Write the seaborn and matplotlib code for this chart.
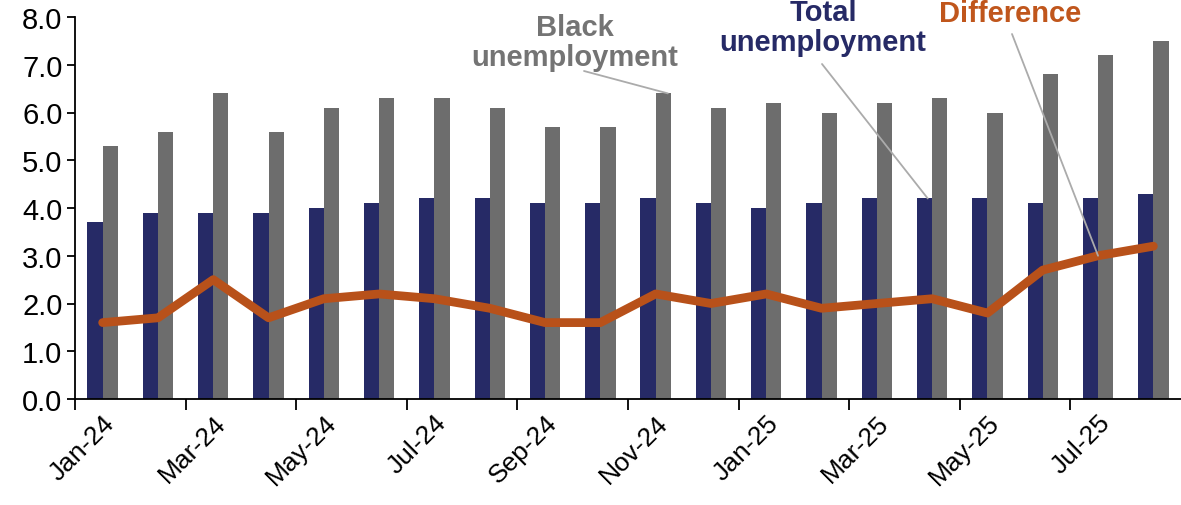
import numpy as np
import pandas as pd
import matplotlib
matplotlib.use("Agg")
import matplotlib.pyplot as plt
import seaborn as sns

months = ["Jan-24", "Feb-24", "Mar-24", "Apr-24", "May-24", "Jun-24", "Jul-24", "Aug-24",
          "Sep-24", "Oct-24", "Nov-24", "Dec-24", "Jan-25", "Feb-25", "Mar-25", "Apr-25",
          "May-25", "Jun-25", "Jul-25", "Aug-25"]
total_unemp = [3.7, 3.9, 3.9, 3.9, 4.0, 4.1, 4.2, 4.2, 4.1, 4.1,
               4.2, 4.1, 4.0, 4.1, 4.2, 4.2, 4.2, 4.1, 4.2, 4.3]
black_unemp = [5.3, 5.6, 6.4, 5.6, 6.1, 6.3, 6.3, 6.1, 5.7, 5.7,
               6.4, 6.1, 6.2, 6.0, 6.2, 6.3, 6.0, 6.8, 7.2, 7.5]
difference = [1.6, 1.7, 2.5, 1.7, 2.1, 2.2, 2.1, 1.9, 1.6, 1.6,
              2.2, 2.0, 2.2, 1.9, 2.0, 2.1, 1.8, 2.7, 3.0, 3.2]
yticks = [0, 1, 2, 3, 4, 5, 6, 7, 8]

NAVY = "#262A66"
GRAY = "#6D6D6D"
ORANGE = "#B8511A"

sns.set_theme(style="ticks")
plt.rcParams["font.family"] = ["Liberation Sans", "DejaVu Sans"]
plt.rcParams["text.color"] = "black"
plt.rcParams["xtick.color"] = "black"
plt.rcParams["ytick.color"] = "black"

df = pd.DataFrame({
    "month": months * 2,
    "value": total_unemp + black_unemp,
    "series": ["Total"] * len(months) + ["Black"] * len(months),
})

fig = plt.figure(figsize=(11.81, 5.06), dpi=100)
ax = fig.add_axes([75 / 1181, 106 / 506, 1 - 75 / 1181, (400 - 18) / 506])

sns.barplot(data=df, x="month", y="value", hue="series", order=months,
            hue_order=["Total", "Black"], palette=[NAVY, GRAY], saturation=1,
            width=0.55, dodge=True, linewidth=0, legend=False, ax=ax)
sns.lineplot(x=np.arange(len(months)), y=difference, color=ORANGE, lw=6.3,
             solid_joinstyle="round", solid_capstyle="round", ax=ax)

ax.set_xlim(-0.5, len(months) - 0.5)
ax.set_ylim(0, 8)
ax.set_yticks(yticks)
ax.set_yticklabels([f"{v:.1f}" for v in yticks], fontsize=21)
ax.set_xlabel("")
ax.set_ylabel("")

ax.set_xticks(np.arange(-0.5, len(months) - 0.5, 2))
ax.set_xticklabels([])
ax.set_xticks(np.arange(0, len(months), 2), minor=True)
ax.set_xticklabels(months[::2], minor=True, rotation=45, ha="right",
                   rotation_mode="anchor", fontsize=19)
ax.tick_params(axis="x", which="major", length=8, width=1.3, direction="out")
ax.tick_params(axis="x", which="minor", length=0, pad=8)
ax.tick_params(axis="y", length=6, width=1.3, direction="out", pad=3)

sns.despine(ax=ax, top=True, right=True)
for s in ("left", "bottom"):
    ax.spines[s].set_linewidth(1.3)
    ax.spines[s].set_color("black")

def fpos(px, py):
    return (px / 1181, 1 - py / 506)

LEAD = "#ABABAB"
fig.text(*fpos(575, 43), "Black\nunemployment", color="#747474", fontsize=21,
         fontweight="bold", ha="center", va="center", linespacing=1.08)
fig.text(*fpos(823, 28), "Total\nunemployment", color=NAVY, fontsize=21,
         fontweight="bold", ha="center", va="center", linespacing=1.08)
fig.text(*fpos(1010, 14), "Difference", color="#C0561C", fontsize=21,
         fontweight="bold", ha="center", va="center")

ax.annotate("", xy=(10.22, 6.4), xytext=fpos(584, 72), textcoords="figure fraction",
            arrowprops=dict(arrowstyle="-", color=LEAD, lw=1.3, shrinkA=0, shrinkB=0))
ax.annotate("", xy=(14.92, 4.2), xytext=fpos(822, 65), textcoords="figure fraction",
            arrowprops=dict(arrowstyle="-", color=LEAD, lw=1.3, shrinkA=0, shrinkB=0))
ax.annotate("", xy=(18.0, 3.0), xytext=fpos(1012, 35), textcoords="figure fraction",
            arrowprops=dict(arrowstyle="-", color=LEAD, lw=1.3, shrinkA=0, shrinkB=0))

fig.savefig("out.png", dpi=100)
